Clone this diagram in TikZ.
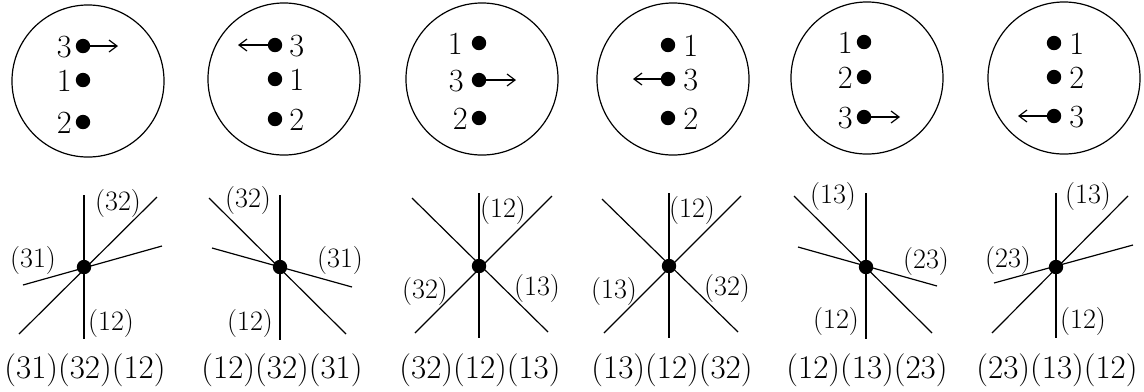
\documentclass[tikz,border=0pt]{standalone}
\usepackage{fontspec}
\usetikzlibrary{arrows.meta}
\newcommand\spoke[3]{\coordinate (#1a) at #2; \coordinate (#1b) at #3; \draw[ln] (#1a) -- (#1b);}
\begin{document}
\begin{tikzpicture}[x=0.025cm,y=-0.025cm,
  ring/.style={draw,line width=0.85pt,circle,minimum size=3.8cm,inner sep=0pt},
  dot/.style={circle,fill=black,inner sep=0pt,minimum size=0.36cm},
  arr/.style={line width=0.85pt,-{Straight Barb[length=0.2cm,width=0.3cm]}},
  ln/.style={line width=0.85pt},
  num/.style={inner sep=0pt,font=\fontsize{23}{26}\selectfont},
  lab/.style={inner sep=0pt,anchor=base,font=\fontsize{20}{23}\selectfont},
  captext/.style={inner sep=0pt,anchor=base,font=\fontsize{23.5}{27}\selectfont}]
\useasboundingbox (0,0) rectangle (1144,391);
% ---------- circles ----------
\node[ring] (c1) at (88,81) {};
\node[ring] (c2) at (284,79) {};
\node[ring] (c3) at (482,79) {};
\node[ring] (c4) at (673,79) {};
\node[ring] (c5) at (867,78) {};
\node[ring] (c6) at (1064,78) {};
% circle 1
\node[dot] (a1) at (83,46) {}; \node[dot] (a2) at (83,80) {}; \node[dot] (a3) at (83,122) {};
\node[num,anchor=base east] (la1) at (72,57) {3};
\node[num,anchor=base east] (la2) at (72,91) {1};
\node[num,anchor=base east] (la3) at (72,133) {2};
\coordinate (ae) at (118,46); \draw[arr] (a1) -- (ae);
% circle 2
\node[dot] (b1) at (275,45) {}; \node[dot] (b2) at (275,79) {}; \node[dot] (b3) at (275,119) {};
\node[num,anchor=base west] (lb1) at (289,56) {3};
\node[num,anchor=base west] (lb2) at (289,90) {1};
\node[num,anchor=base west] (lb3) at (289,130) {2};
\coordinate (be) at (238,45); \draw[arr] (b1) -- (be);
% circle 3
\node[dot] (e1) at (479,43) {}; \node[dot] (e2) at (479,80) {}; \node[dot] (e3) at (479,118) {};
\node[num,anchor=base east] (le1) at (463,54) {1};
\node[num,anchor=base east] (le2) at (464,91) {3};
\node[num,anchor=base east] (le3) at (468,129) {2};
\coordinate (ee) at (516,80); \draw[arr] (e2) -- (ee);
% circle 4
\node[dot] (f1) at (668,45) {}; \node[dot] (f2) at (668,79) {}; \node[dot] (f3) at (668,118) {};
\node[num,anchor=base west] (lf1) at (683,56) {1};
\node[num,anchor=base west] (lf2) at (683,90) {3};
\node[num,anchor=base west] (lf3) at (683,129) {2};
\coordinate (fe) at (633,79); \draw[arr] (f2) -- (fe);
% circle 5
\node[dot] (g1) at (864,42) {}; \node[dot] (g2) at (864,77) {}; \node[dot] (g3) at (864,117) {};
\node[num,anchor=base east] (lg1) at (853,53) {1};
\node[num,anchor=base east] (lg2) at (853,88) {2};
\node[num,anchor=base east] (lg3) at (853,128) {3};
\coordinate (ge) at (900,117); \draw[arr] (g3) -- (ge);
% circle 6
\node[dot] (h1) at (1054,43) {}; \node[dot] (h2) at (1054,77) {}; \node[dot] (h3) at (1054,116) {};
\node[num,anchor=base west] (lh1) at (1069,54) {1};
\node[num,anchor=base west] (lh2) at (1069,88) {2};
\node[num,anchor=base west] (lh3) at (1069,127) {3};
\coordinate (he) at (1018,116); \draw[arr] (h3) -- (he);
% ---------- line diagrams ----------
% panel 1
\spoke{pav}{(84,195)}{(84,339)}
\spoke{pad}{(19,334)}{(157,197)}
\spoke{pas}{(23,285)}{(162,246)}
\node[dot] (pa) at (84,267) {};
\node[lab] (pal1) at (118,210) {(32)};
\node[lab] (pal2) at (33,267) {(31)};
\node[lab] (pal3) at (111,330) {(12)};
\node[captext] (pac) at (85,378) {(31)(32)(12)};
% panel 2
\spoke{pbv}{(280,195)}{(280,340)}
\spoke{pbd}{(209,198)}{(346,334)}
\spoke{pbs}{(212,248)}{(352,287)}
\node[dot] (pb) at (280,267) {};
\node[lab] (pbl1) at (248,207) {(32)};
\node[lab] (pbl2) at (340,267) {(31)};
\node[lab] (pbl3) at (250,330) {(12)};
\node[captext] (pbc) at (282,378) {(12)(32)(31)};
% panel 3
\spoke{pcv}{(479,193)}{(479,338)}
\spoke{pcd}{(415,333)}{(552,196)}
\spoke{pce}{(412,198)}{(548,332)}
\node[dot] (pc) at (479,266) {};
\node[lab] (pcl1) at (503,217) {(12)};
\node[lab] (pcl2) at (425,298) {(32)};
\node[lab] (pcl3) at (537,295) {(13)};
\node[captext] (pcc) at (480,378) {(32)(12)(13)};
% panel 4
\spoke{pdv}{(669,193)}{(669,338)}
\spoke{pdd}{(602,199)}{(738,332)}
\spoke{pde}{(604,333)}{(741,196)}
\node[dot] (pd) at (669,266) {};
\node[lab] (pdl1) at (692,217) {(12)};
\node[lab] (pdl2) at (614,298) {(13)};
\node[lab] (pdl3) at (727,295) {(32)};
\node[captext] (pdc) at (672,378) {(13)(12)(32)};
% panel 5
\spoke{pev}{(866,193)}{(866,339)}
\spoke{ped}{(794,196)}{(932,333)}
\spoke{pes}{(798,247)}{(937,286)}
\node[dot] (pe) at (866,267) {};
\node[lab] (pel1) at (833,203) {(13)};
\node[lab] (pel2) at (926,268) {(23)};
\node[lab] (pel3) at (836,328) {(12)};
\node[captext] (pec) at (867,378) {(12)(13)(23)};
% panel 6
\spoke{pfv}{(1056,193)}{(1056,338)}
\spoke{pfd}{(992,333)}{(1128,196)}
\spoke{pfs}{(994,283)}{(1133,245)}
\node[dot] (pf) at (1056,267) {};
\node[lab] (pfl1) at (1088,203) {(13)};
\node[lab] (pfl2) at (1008,267) {(23)};
\node[lab] (pfl3) at (1083,328) {(12)};
\node[captext] (pfc) at (1057,378) {(23)(13)(12)};
\end{tikzpicture}
\end{document}
